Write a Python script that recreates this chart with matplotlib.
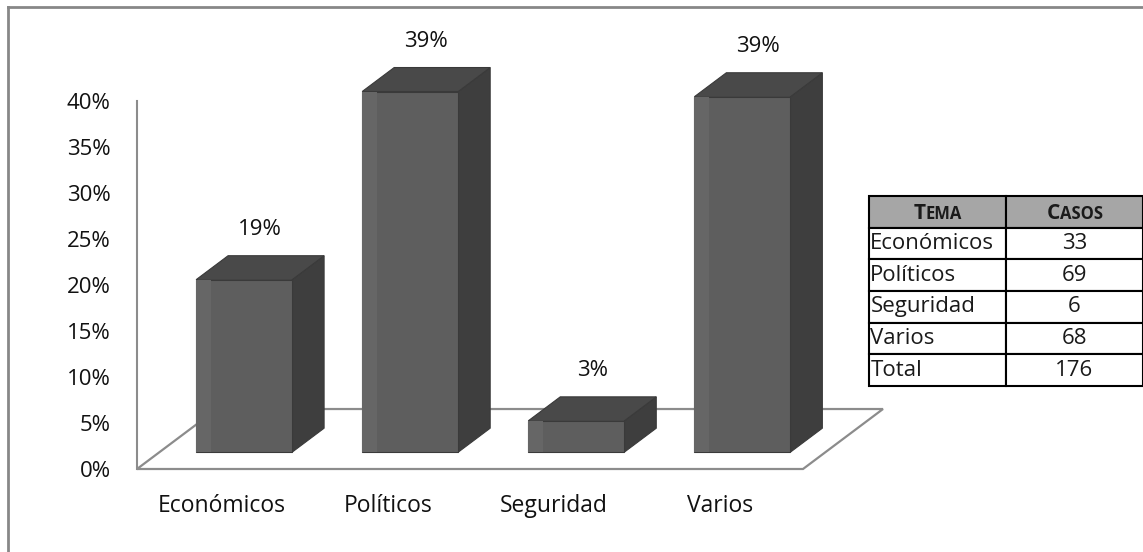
import numpy as np
import matplotlib
matplotlib.use('Agg')
import matplotlib.pyplot as plt
from matplotlib.patches import Polygon
from matplotlib.lines import Line2D

temas = ['Económicos', 'Políticos', 'Seguridad', 'Varios']
casos = [33, 69, 6, 68]
total = sum(casos)
pct = [100.0 * c / total for c in casos]
yticks = [0, 5, 10, 15, 20, 25, 30, 35, 40]

plt.rcParams['font.family'] = ['Open Sans', 'DejaVu Sans']

# oblique "3d" look: one depth unit moves right DX (categories) and up DY (percent)
DX = 0.4816
DY = 6.52
D0, D1 = 0.28, 0.68  # bar depth range
W = 0.578
XL, XR = -0.51, 3.5

c_front = '#5e5e5e'
c_top = '#494949'
c_side = '#3e3e3e'
c_edge = '#3a3a3a'
c_grid = '#8c8c8c'

fig = plt.figure(figsize=(11.43, 5.52), dpi=100)
ax = fig.add_axes([137 / 1143, 83 / 552, 666 / 1143, 368 / 552])
ax.set_xlim(XL, XR)
ax.set_ylim(0, 40)
ax.patch.set_alpha(0)

for s in ['top', 'right', 'bottom']:
    ax.spines[s].set_visible(False)
ax.spines['left'].set_color(c_grid)
ax.spines['left'].set_linewidth(1.5)
ax.spines['left'].set_zorder(1)

ax.set_yticks(yticks)
ax.set_yticklabels(['%d%%' % t for t in yticks], fontsize=16, color='#111111')
ax.tick_params(axis='y', length=0, pad=19)
ax.set_xticks([])


def pt(x, y, d):
    return (x + DX * d, y + DY * d)


# floor
floor = Polygon([pt(XL, 0, 0), pt(XR, 0, 0), pt(XR, 0, 1), pt(XL, 0, 1)],
                closed=True, facecolor='white', edgecolor=c_grid, lw=1.6,
                zorder=1, clip_on=False)
ax.add_patch(floor)

xs = np.arange(len(temas))
# front faces
ax.bar(xs + DX * D0, pct, width=W, bottom=DY * D0, color=c_front,
       edgecolor=c_edge, linewidth=0.8, zorder=4, clip_on=False)

for x, v in zip(xs, pct):
    l, r = x - W / 2, x + W / 2
    top = Polygon([pt(l, v, D0), pt(r, v, D0), pt(r, v, D1), pt(l, v, D1)],
                  facecolor=c_top, edgecolor=c_edge, lw=0.8, zorder=3, clip_on=False)
    side = Polygon([pt(r, 0, D0), pt(r, 0, D1), pt(r, v, D1), pt(r, v, D0)],
                   facecolor=c_side, edgecolor=c_edge, lw=0.8, zorder=3, clip_on=False)
    ax.add_patch(side)
    ax.add_patch(top)
    # lighter bevel strip on left of front face
    ax.bar(x + DX * D0 - W / 2 + 0.045, v, width=0.09, bottom=DY * D0,
           color='#666666', linewidth=0, zorder=5, clip_on=False)
    lx, ly = pt(x, v, D1)
    ax.annotate('%d%%' % round(v), xy=(x + DX * (D0 + D1) / 2, ly), xytext=(0, 19),
                textcoords='offset points', ha='center', va='center',
                fontsize=16, color='#111111', annotation_clip=False)

for x, t in zip(xs, temas):
    ax.annotate(t, xy=(x, 0), xytext=(0, -27), textcoords='offset points',
                ha='center', va='center', fontsize=16.5, color='#111111',
                annotation_clip=False)

# table of cases
rows = temas + ['Total']
vals = casos + [total]
tab = ax.table(cellText=[[r, str(v)] for r, v in zip(rows, vals)],
               colLabels=['', ''], cellLoc='center',
               bbox=[(869 - 137) / 666, (469 - 386) / 368, 274 / 666, 190 / 368])
tab.auto_set_font_size(False)
for (i, j), cell in tab.get_celld().items():
    cell.set_edgecolor('black')
    cell.set_linewidth(1.5)
    cell.get_text().set_fontsize(16)
    cell.get_text().set_color('#1a1a1a')
    if i == 0:
        cell.set_facecolor('#a6a6a6')
    if j == 0 and i > 0:
        cell.get_text().set_horizontalalignment('left')
        cell.PAD = 0.01

# small caps header
fig.canvas.draw()
renderer = fig.canvas.get_renderer()
for j, word in enumerate(['TEMA', 'CASOS']):
    cell = tab[0, j]
    bb = cell.get_window_extent(renderer)
    cx = (bb.x0 + bb.x1) / 2
    cy = bb.y0 + bb.height * 0.27
    t1 = fig.text(0, 0, word[0], fontsize=15, weight='bold', color='#1a1a1a', va='baseline')
    t2 = fig.text(0, 0, word[1:], fontsize=12, weight='bold', color='#1a1a1a', va='baseline')
    w1 = t1.get_window_extent(renderer).width
    w2 = t2.get_window_extent(renderer).width
    x0 = cx - (w1 + w2) / 2
    t1.set_position((x0 / fig.bbox.width, cy / fig.bbox.height))
    t2.set_position(((x0 + w1) / fig.bbox.width, cy / fig.bbox.height))

# outer frame
fig.add_artist(Line2D([8 / 1143, 1], [1 - 7 / 552, 1 - 7 / 552], color='#878787', lw=2))
fig.add_artist(Line2D([8 / 1143, 8 / 1143], [0, 1 - 7 / 552], color='#878787', lw=2))

fig.savefig('out.png', dpi=100)
